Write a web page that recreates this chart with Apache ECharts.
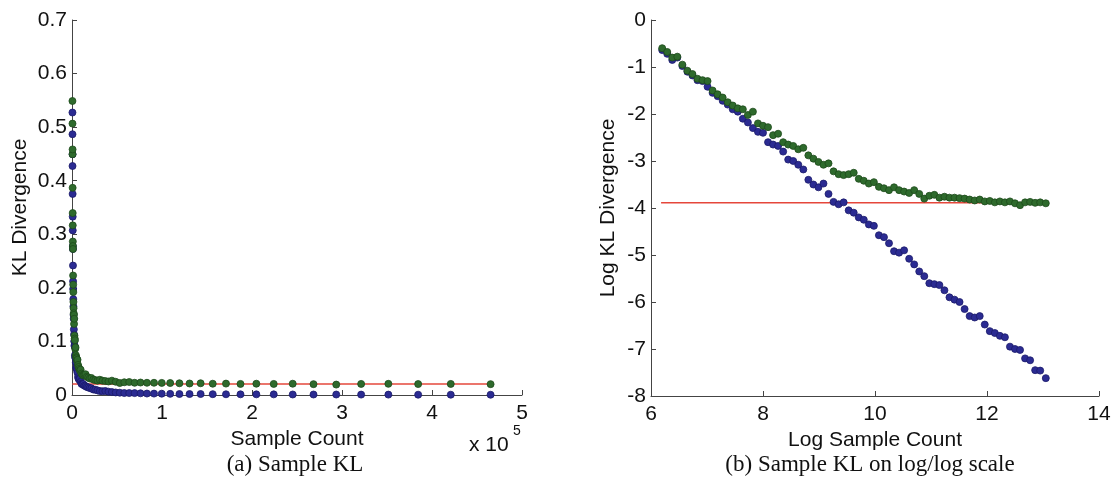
<!DOCTYPE html>
<html>
<head>
<meta charset="utf-8">
<script src="https://cdn.jsdelivr.net/npm/echarts@6/dist/echarts.min.js"></script>
<style>
html,body{margin:0;padding:0;background:#fff;}
#c{width:1115px;height:492px;}
</style>
</head>
<body>
<div id="c"></div>
<script>
// Log sample count (natural log) of each measurement
var logSampleCount = [6.20,6.29,6.38,6.47,6.56,6.65,6.74,6.83,6.92,7.01,7.10,7.19,7.28,7.37,7.46,7.55,7.64,7.73,7.82,7.91,
  8.00,8.09,8.18,8.27,8.36,8.45,8.54,8.63,8.72,8.81,8.90,8.99,9.08,9.17,9.26,9.35,9.44,9.53,9.62,9.71,
  9.80,9.89,9.98,10.07,10.16,10.25,10.34,10.43,10.52,10.61,10.70,10.79,10.88,10.97,11.06,11.15,11.24,11.33,11.42,11.51,
  11.60,11.69,11.78,11.87,11.96,12.05,12.14,12.23,12.32,12.41,12.50,12.59,12.68,12.77,12.86,12.95,13.05];
// Log KL divergence, blue series
var logKLBlue = [-0.64,-0.72,-0.85,-0.80,-0.98,-1.10,-1.18,-1.28,-1.30,-1.42,-1.55,-1.62,-1.72,-1.80,-1.90,-1.95,-2.10,-2.18,-2.30,-2.38,
  -2.40,-2.60,-2.65,-2.68,-2.80,-2.97,-3.00,-3.08,-3.18,-3.40,-3.50,-3.56,-3.48,-3.70,-3.87,-3.92,-3.88,-4.05,-4.10,-4.20,
  -4.25,-4.35,-4.38,-4.58,-4.62,-4.75,-4.92,-4.95,-4.90,-5.08,-5.20,-5.35,-5.45,-5.60,-5.62,-5.64,-5.75,-5.90,-5.95,-6.00,
  -6.15,-6.30,-6.33,-6.30,-6.48,-6.62,-6.66,-6.72,-6.75,-6.95,-7.00,-7.02,-7.20,-7.24,-7.45,-7.46,-7.62];
// Log KL divergence, green series
var logKLGreen = [-0.60,-0.68,-0.80,-0.78,-0.95,-1.08,-1.15,-1.25,-1.28,-1.30,-1.50,-1.58,-1.65,-1.75,-1.82,-1.88,-1.90,-2.02,-1.95,-2.20,
  -2.25,-2.28,-2.45,-2.42,-2.60,-2.65,-2.68,-2.75,-2.72,-2.88,-2.95,-3.02,-3.08,-3.05,-3.22,-3.28,-3.30,-3.28,-3.25,-3.38,
  -3.42,-3.48,-3.45,-3.55,-3.58,-3.62,-3.56,-3.62,-3.65,-3.68,-3.62,-3.70,-3.80,-3.74,-3.72,-3.78,-3.76,-3.78,-3.78,-3.79,
  -3.80,-3.82,-3.84,-3.82,-3.86,-3.85,-3.88,-3.86,-3.88,-3.86,-3.90,-3.94,-3.88,-3.87,-3.89,-3.88,-3.90];
// Red reference level (log KL) and its extent (log sample count)
var refLevelLog = -3.89;
var refExtentLog = [6.18, 13.05];

// Axis ticks
var leftXTicks = [0, 1, 2, 3, 4, 5];          // x 10^5
var leftYTicks = [0, 0.1, 0.2, 0.3, 0.4, 0.5, 0.6, 0.7];
var rightXTicks = [6, 8, 10, 12, 14];
var rightYTicks = [-8, -7, -6, -5, -4, -3, -2, -1, 0];

// Linear-scale versions of the same measurements (sample count in units of 10^5)
function toLinear(lx, ly) { return lx.map(function (v, i) { return [Math.exp(v) / 1e5, Math.exp(ly[i])]; }); }
function toLog(lx, ly) { return lx.map(function (v, i) { return [v, ly[i]]; }); }

var FONT = '"Liberation Sans", Arial, Helvetica, sans-serif';
var FS = 21;
var AX = '#444';
var GREEN = '#2e6a2c', GREEN_E = '#1d4a1b';
var BLUE = '#2b2b92', BLUE_E = '#1b1b6a';
var RED = '#e5473b';

function xAxisBase(grid, min, max, interval, name, gap) {
  return {
    type: 'value', gridIndex: grid, min: min, max: max, interval: interval,
    name: name, nameLocation: 'middle', nameGap: gap,
    nameTextStyle: { fontFamily: FONT, fontSize: FS, color: '#111' },
    axisLine: { show: true, onZero: false, lineStyle: { color: AX, width: 1 } },
    axisTick: { show: true, inside: true, length: 5, lineStyle: { color: AX } },
    axisLabel: { fontFamily: FONT, fontSize: FS, color: '#111', margin: 8 },
    splitLine: { show: false }
  };
}
function yAxisBase(grid, min, max, interval, name, gap, fmt) {
  return {
    type: 'value', gridIndex: grid, min: min, max: max, interval: interval,
    name: name, nameLocation: 'middle', nameGap: gap, nameRotate: 90,
    nameTextStyle: { fontFamily: FONT, fontSize: FS, color: '#111' },
    axisLine: { show: true, onZero: false, lineStyle: { color: AX, width: 1 } },
    axisTick: { show: true, inside: true, length: 5, lineStyle: { color: AX } },
    axisLabel: { fontFamily: FONT, fontSize: FS, color: '#111', margin: 5, formatter: fmt },
    splitLine: { show: false }
  };
}

var chart = echarts.init(document.getElementById('c'), null, { renderer: 'canvas' });
var refLeft = refExtentLog.map(function (v) { return [Math.exp(v) / 1e5, Math.exp(refLevelLog)]; });
var refRight = refExtentLog.map(function (v) { return [v, refLevelLog]; });

function scatter(xi, data, fill, edge, z) {
  return {
    type: 'scatter', xAxisIndex: xi, yAxisIndex: xi, data: data,
    symbol: 'circle', symbolSize: 7, z: z, silent: true,
    itemStyle: { color: fill, borderColor: edge, borderWidth: 0.8, opacity: 1 }
  };
}
function refLine(xi, data) {
  return {
    type: 'line', xAxisIndex: xi, yAxisIndex: xi, data: data, z: 1,
    symbol: 'none', silent: true, lineStyle: { color: RED, width: 1.5 }
  };
}

chart.setOption({
  animation: false,
  backgroundColor: '#fff',
  grid: [
    { left: 72, top: 20, width: 450, height: 375 },
    { left: 651, top: 20, width: 448, height: 376 }
  ],
  xAxis: [
    xAxisBase(0, leftXTicks[0], leftXTicks[leftXTicks.length - 1], 1, 'Sample Count', 32),
    xAxisBase(1, rightXTicks[0], rightXTicks[rightXTicks.length - 1], 2, 'Log Sample Count', 33)
  ],
  yAxis: [
    yAxisBase(0, leftYTicks[0], leftYTicks[leftYTicks.length - 1], 0.1, 'KL Divergence', 41,
      function (v) { return String(+v.toFixed(1)); }),
    yAxisBase(1, rightYTicks[0], rightYTicks[rightYTicks.length - 1], 1, 'Log KL Divergence', 32,
      function (v) { return String(v); })
  ],
  series: [
    refLine(0, refLeft),
    scatter(0, toLinear(logSampleCount, logKLBlue), BLUE, BLUE_E, 2),
    scatter(0, toLinear(logSampleCount, logKLGreen), GREEN, GREEN_E, 3),
    refLine(1, refRight),
    scatter(1, toLog(logSampleCount, logKLBlue), BLUE, BLUE_E, 2),
    scatter(1, toLog(logSampleCount, logKLGreen), GREEN, GREEN_E, 3)
  ],
  graphic: [
    { type: 'text', left: 469, top: 435, style: { text: 'x 10', font: FS + 'px ' + FONT, fill: '#111' } },
    { type: 'text', left: 513, top: 424, style: { text: '5', font: '14px ' + FONT, fill: '#111' } },
    { type: 'text', x: 295, y: 465, style: { text: '(a) Sample KL', font: '23px "Liberation Serif", "Times New Roman", serif', fill: '#111', textAlign: 'center', textVerticalAlign: 'middle' } },
    { type: 'text', x: 870, y: 465, style: { text: '(b) Sample KL on log/log scale', font: '23px "Liberation Serif", "Times New Roman", serif', fill: '#111', textAlign: 'center', textVerticalAlign: 'middle' } }
  ]
});
</script>
</body>
</html>
